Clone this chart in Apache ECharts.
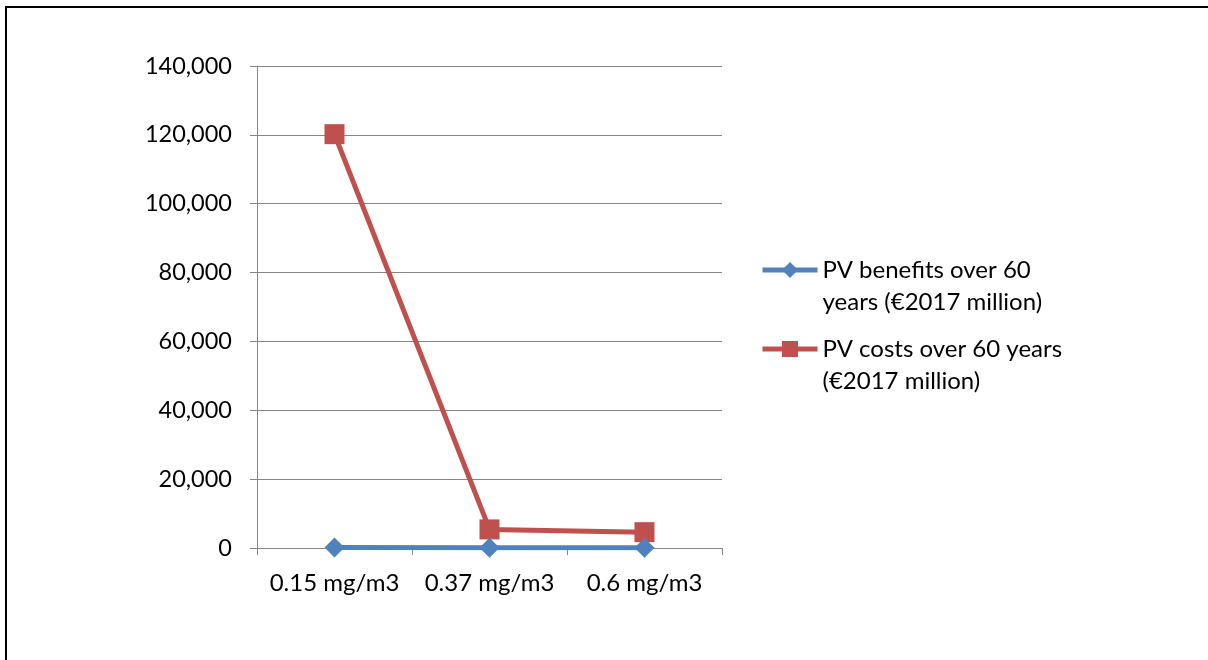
<!DOCTYPE html>
<html><head><meta charset="utf-8">
<script src="https://cdn.jsdelivr.net/npm/echarts@6/dist/echarts.min.js"></script>
<style>html,body{margin:0;padding:0;background:#fff}#c{width:1208px;height:660px}</style>
</head><body><div id="c"></div>
<script>
const categories = ['0.15 mg/m3', '0.37 mg/m3', '0.6 mg/m3'];
const benefitsName = 'PV benefits over 60 years (€2017 million)';
const costsName = 'PV costs over 60 years (€2017 million)';
const benefitsLabel = 'PV benefits over 60\nyears (€2017 million)';
const costsLabel = 'PV costs over 60 years\n(€2017 million)';
const benefits = [120, 90, 60];
const costs = [120200, 5400, 4600];
const yMin = 0, yMax = 140000, yStep = 20000;

const FONT = 'Lato';
const FS = 24;
const chart = echarts.init(document.getElementById('c'), null, {renderer: 'canvas'});
const legendText = {fontFamily: FONT, fontSize: FS, color: '#000', lineHeight: 32};
chart.setOption({
  animation: false,
  graphic: [{type: 'rect', shape: {x: 6, y: 7, width: 1400, height: 1000}, style: {fill: 'none', stroke: '#000', lineWidth: 2}, silent: true}],
  grid: {left: 257, right: 486, top: 66, bottom: 112},
  legend: [
    {left: 760, top: 222, padding: 0, itemWidth: 55, itemHeight: 20, data: [{name: benefitsName}],
     lineStyle: {width: 5}, formatter: () => '\n' + benefitsLabel, textStyle: legendText, selectedMode: false},
    {left: 760, top: 301, padding: 0, itemWidth: 55, itemHeight: 20, data: [{name: costsName}],
     lineStyle: {width: 5}, formatter: () => '\n' + costsLabel, textStyle: legendText, selectedMode: false}
  ],
  xAxis: {
    type: 'category', data: categories, boundaryGap: true,
    axisLine: {lineStyle: {color: '#868686', width: 1}},
    axisTick: {show: true, length: 7, alignWithLabel: false, lineStyle: {color: '#868686'}},
    axisLabel: {color: '#000', fontFamily: FONT, fontSize: FS, margin: 23, interval: 0, hideOverlap: false}
  },
  yAxis: {
    type: 'value', min: yMin, max: yMax, interval: yStep,
    axisLine: {show: true, lineStyle: {color: '#868686', width: 1}},
    axisTick: {show: true, length: 7, lineStyle: {color: '#868686'}},
    splitLine: {lineStyle: {color: '#868686', width: 1}},
    axisLabel: {color: '#000', fontFamily: FONT, fontSize: 23.5, margin: 25,
      formatter: v => v.toLocaleString('en-US')}
  },
  series: [
    {name: costsName, type: 'line', data: costs, z: 2, symbol: 'rect', symbolSize: 20,
     lineStyle: {color: '#C0504D', width: 5}, itemStyle: {color: '#C0504D'}},
    {name: benefitsName, type: 'line', data: benefits, z: 3, symbol: 'diamond', symbolSize: [20, 20],
     lineStyle: {color: '#4F81BD', width: 5}, itemStyle: {color: '#4F81BD'}}
  ]
});
</script></body></html>
